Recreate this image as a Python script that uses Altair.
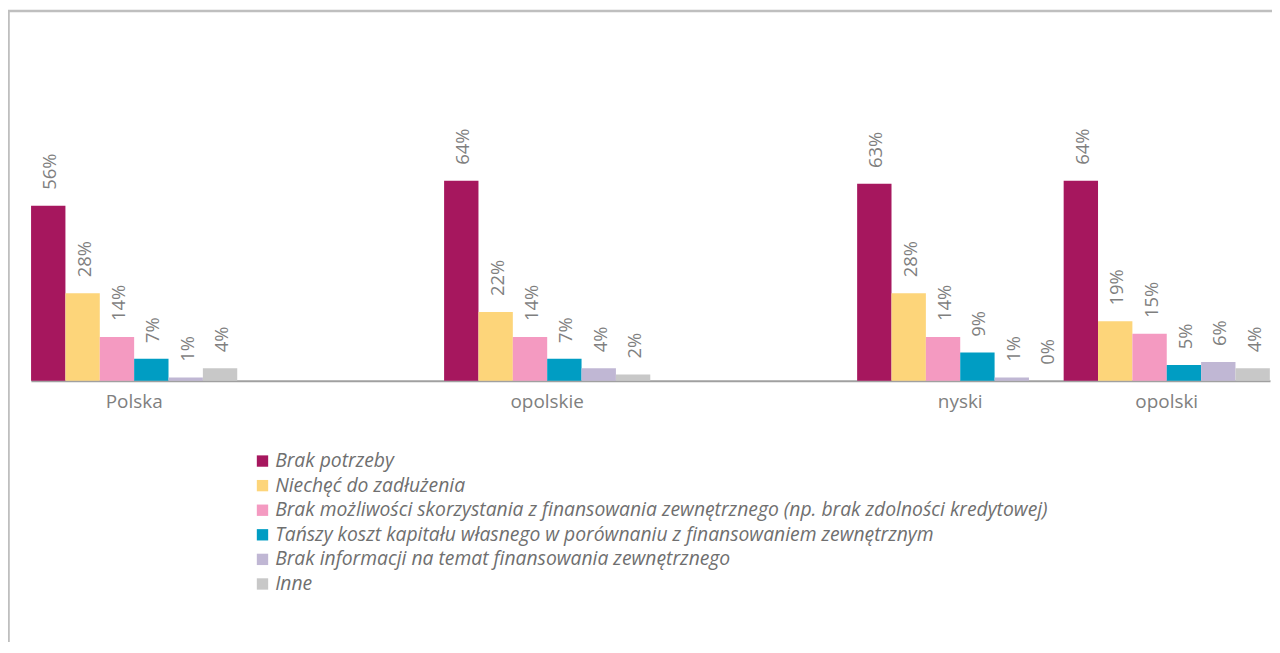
import altair as alt
import pandas as pd

groups = ["Polska", "opolskie", "nyski", "opolski"]
slots = ["Polska", "_a", "opolskie", "_b", "nyski", "opolski"]
series = [
    "Brak potrzeby",
    "Niechęć do zadłużenia",
    "Brak możliwości skorzystania z finansowania zewnętrznego (np. brak zdolności kredytowej)",
    "Tańszy koszt kapitału własnego w porównaniu z finansowaniem zewnętrznym",
    "Brak informacji na temat finansowania zewnętrznego",
    "Inne",
]
colors = ["#A6175E", "#FDD57A", "#F49AC1", "#009DC3", "#C0B7D4", "#C8C8C8"]

brak_potrzeby = [56, 64, 63, 64]
niechec = [28, 22, 28, 19]
brak_mozliwosci = [14, 14, 14, 15]
tanszy_koszt = [7, 7, 9, 5]
brak_informacji = [1, 4, 1, 6]
inne = [4, 2, 0, 4]

all_values = [brak_potrzeby, niechec, brak_mozliwosci, tanszy_koszt, brak_informacji, inne]
rows = []
for s, vals in zip(series, all_values):
    for g, v in zip(groups, vals):
        rows.append({"grupa": g, "seria": s, "wartosc": v, "etykieta": f"{v}%"})
df = pd.DataFrame(rows)

x = alt.X(
    "grupa:N",
    scale=alt.Scale(domain=slots, paddingInner=0, paddingOuter=0),
    axis=alt.Axis(
        title=None,
        labelExpr="indexof(datum.label, '_') == 0 ? '' : datum.label",
        ticks=False,
        labelAngle=0,
        domainColor="#a0a0a0",
        domainWidth=2,
        labelFont="Open Sans",
        labelFontSize=19,
        labelColor="#7f7f7f",
        labelPadding=12,
        grid=False,
    ),
)
xoff = alt.XOffset("seria:N", scale=alt.Scale(domain=series, paddingInner=0, paddingOuter=0.005))
y = alt.Y("wartosc:Q", scale=alt.Scale(domain=[0, 100], nice=False), axis=None)

color = alt.Color(
    "seria:N",
    scale=alt.Scale(domain=series, range=colors),
    legend=alt.Legend(
        orient="none",
        legendX=223,
        legendY=385,
        title=None,
        symbolType="square",
        symbolSize=130,
        symbolStrokeWidth=0,
        labelFont="Open Sans",
        labelFontSize=19.4,
        labelFontStyle="italic",
        labelColor="#6f6f6f",
        labelLimit=2000,
        rowPadding=3.7,
        labelOffset=3,
        padding=0,
    ),
)

base = alt.Chart(df)
bars = base.mark_bar().encode(x=x, xOffset=xoff, y=y, color=color)
labels = base.mark_text(
    angle=270, align="left", baseline="middle", dx=16, dy=2,
    font="Open Sans", fontSize=18.5, color="#7f7f7f",
).encode(x=x, xOffset=xoff, y=y, text="etykieta:N")

frame_data = alt.Data(values=[{}])
left_line = alt.Chart(frame_data).mark_rule(color="#bfbfbf", strokeWidth=2).encode(
    x=alt.value(-22.2), y=alt.value(-57.5), y2=alt.value(580)
)
top_line = alt.Chart(frame_data).mark_rule(color="#bfbfbf", strokeWidth=2.3).encode(
    x=alt.value(-23), x2=alt.value(1250), y=alt.value(-57.5)
)

chart = alt.layer(bars, labels, left_line, top_line).properties(
    width=1245,
    height=314,
    autosize=alt.AutoSizeParams(type="none"),
    padding={"left": 23, "top": 59, "right": 2, "bottom": 261},
).configure_view(stroke=None)

chart.save("out.html", embed_options={"renderer": "svg", "actions": False})
